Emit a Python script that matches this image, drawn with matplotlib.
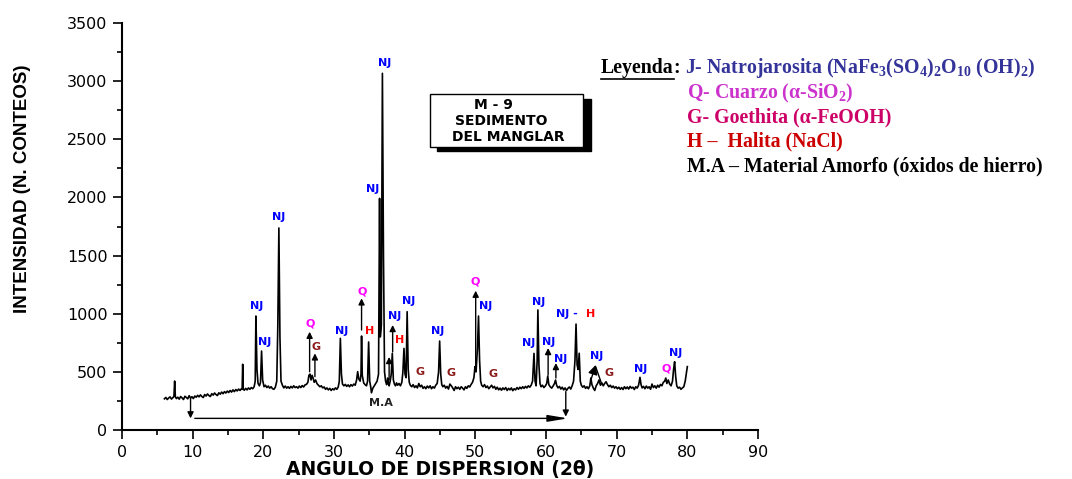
import matplotlib
matplotlib.use("Agg")
import matplotlib.pyplot as plt
from matplotlib.patches import Rectangle
from matplotlib.lines import Line2D

# difractograma M-9, (2theta, conteos)
xrd_pattern = [
    (6.0, 268), (6.2, 280), (6.4, 262), (6.6, 275), (6.8, 285), (7.0, 266), (7.2, 278),
    (7.35, 290), (7.45, 421), (7.55, 285), (7.7, 270), (7.9, 282), (8.1, 265), (8.3, 288),
    (8.5, 276), (8.7, 262), (8.9, 290), (9.1, 280), (9.3, 268), (9.5, 295), (9.7, 275),
    (9.9, 286), (10.1, 270), (10.3, 292), (10.5, 282), (10.7, 298), (10.9, 285), (11.1, 302),
    (11.3, 288), (11.5, 279), (11.7, 305), (11.9, 292), (12.1, 310), (12.3, 296), (12.5, 288),
    (12.7, 312), (12.9, 300), (13.1, 318), (13.3, 305), (13.5, 296), (13.7, 320), (13.9, 308),
    (14.1, 326), (14.3, 312), (14.5, 330), (14.7, 318), (14.9, 335), (15.1, 322), (15.3, 340),
    (15.5, 326), (15.7, 345), (15.9, 330), (16.1, 348), (16.3, 336), (16.5, 352), (16.7, 340),
    (16.9, 355), (17.0, 350), (17.08, 565), (17.15, 352), (17.3, 342), (17.5, 358), (17.7, 345),
    (17.9, 362), (18.1, 350), (18.3, 365), (18.5, 355), (18.7, 372), (18.85, 420), (18.95, 980),
    (19.1, 520), (19.25, 400), (19.45, 380), (19.6, 410), (19.75, 679), (19.9, 430), (20.1, 372),
    (20.3, 385), (20.5, 365), (20.7, 378), (20.9, 360), (21.1, 372), (21.3, 355), (21.5, 350),
    (21.7, 368), (21.9, 420), (22.05, 900), (22.2, 1737), (22.35, 800), (22.5, 420), (22.7, 385),
    (22.9, 362), (23.1, 378), (23.3, 360), (23.5, 372), (23.7, 358), (23.9, 375), (24.1, 362),
    (24.3, 380), (24.5, 365), (24.7, 372), (24.9, 360), (25.1, 378), (25.3, 365), (25.5, 382),
    (25.7, 370), (25.9, 388), (26.1, 392), (26.3, 410), (26.45, 470), (26.6, 481), (26.75, 430),
    (26.9, 470), (27.05, 445), (27.2, 410), (27.4, 430), (27.6, 398), (27.8, 385), (28.0, 372),
    (28.2, 380), (28.4, 362), (28.6, 370), (28.8, 350), (29.0, 362), (29.2, 345), (29.4, 358),
    (29.6, 340), (29.8, 355), (30.0, 345), (30.2, 362), (30.4, 350), (30.6, 370), (30.75, 420),
    (30.9, 788), (31.05, 480), (31.2, 395), (31.4, 380), (31.6, 392), (31.8, 375), (32.0, 388),
    (32.2, 372), (32.4, 390), (32.6, 378), (32.8, 395), (33.0, 385), (33.2, 430), (33.35, 502),
    (33.5, 440), (33.7, 420), (33.82, 480), (33.9, 808), (34.0, 470), (34.2, 405), (34.4, 390),
    (34.6, 380), (34.75, 420), (34.9, 757), (35.05, 420), (35.2, 370), (35.3, 320), (35.5, 360),
    (35.7, 380), (35.9, 400), (36.1, 420), (36.3, 480), (36.45, 1992), (36.55, 800), (36.7, 900),
    (36.85, 3067), (37.0, 1500), (37.15, 500), (37.3, 420), (37.45, 390), (37.6, 447), (37.7, 400),
    (37.8, 380), (37.95, 420), (38.1, 480), (38.25, 659), (38.4, 430), (38.55, 395), (38.7, 380),
    (38.85, 405), (39.0, 385), (39.2, 400), (39.4, 380), (39.6, 410), (39.75, 500), (39.9, 702),
    (40.05, 480), (40.2, 450), (40.35, 1017), (40.5, 520), (40.65, 410), (40.8, 385), (41.0, 372),
    (41.2, 390), (41.4, 365), (41.6, 380), (41.8, 362), (42.0, 400), (42.2, 372), (42.4, 385),
    (42.6, 358), (42.8, 372), (43.0, 355), (43.2, 378), (43.4, 362), (43.6, 380), (43.8, 355),
    (44.0, 372), (44.2, 360), (44.4, 385), (44.6, 400), (44.8, 500), (44.95, 765), (45.1, 480),
    (45.25, 390), (45.4, 372), (45.6, 385), (45.8, 360), (46.0, 375), (46.2, 352), (46.4, 395),
    (46.6, 380), (46.8, 362), (47.0, 340), (47.2, 372), (47.4, 355), (47.6, 368), (47.8, 350),
    (48.0, 372), (48.2, 360), (48.4, 345), (48.6, 372), (48.8, 358), (49.0, 380), (49.2, 370),
    (49.4, 392), (49.6, 410), (49.8, 450), (49.95, 545), (50.1, 500), (50.3, 700), (50.45, 980),
    (50.6, 600), (50.75, 420), (50.9, 385), (51.1, 372), (51.3, 390), (51.5, 365), (51.7, 378),
    (51.9, 355), (52.1, 370), (52.3, 385), (52.5, 362), (52.7, 375), (52.9, 350), (53.1, 368),
    (53.3, 345), (53.5, 360), (53.7, 342), (53.9, 362), (54.1, 348), (54.3, 365), (54.5, 340),
    (54.7, 358), (54.9, 345), (55.1, 362), (55.3, 338), (55.5, 355), (55.7, 345), (55.9, 365),
    (56.1, 350), (56.3, 368), (56.5, 355), (56.7, 372), (56.9, 358), (57.1, 375), (57.3, 362),
    (57.5, 380), (57.7, 368), (57.9, 385), (58.1, 420), (58.3, 659), (58.45, 420), (58.6, 380),
    (58.75, 600), (58.85, 1032), (59.0, 560), (59.15, 400), (59.3, 372), (59.5, 385), (59.7, 365),
    (59.9, 378), (60.1, 400), (60.25, 464), (60.4, 390), (60.6, 372), (60.8, 360), (61.0, 378),
    (61.2, 400), (61.35, 430), (61.5, 385), (61.7, 362), (61.9, 375), (62.1, 352), (62.3, 368),
    (62.5, 345), (62.7, 362), (62.9, 340), (63.1, 358), (63.3, 370), (63.5, 352), (63.7, 380),
    (63.9, 420), (64.1, 600), (64.25, 911), (64.4, 560), (64.55, 520), (64.7, 660), (64.85, 420),
    (65.0, 385), (65.2, 368), (65.4, 380), (65.6, 358), (65.8, 372), (66.0, 355), (66.2, 380),
    (66.35, 447), (66.5, 390), (66.7, 360), (66.9, 340), (67.1, 380), (67.3, 400), (67.5, 430),
    (67.7, 385), (67.9, 405), (68.1, 380), (68.3, 400), (68.5, 415), (68.7, 390), (68.9, 372),
    (69.1, 385), (69.3, 365), (69.5, 378), (69.7, 360), (69.9, 372), (70.1, 355), (70.3, 368),
    (70.5, 350), (70.7, 365), (70.9, 348), (71.1, 372), (71.3, 355), (71.5, 370), (71.7, 352),
    (71.9, 375), (72.1, 360), (72.3, 368), (72.5, 348), (72.7, 372), (72.9, 360), (73.1, 385),
    (73.3, 453), (73.45, 390), (73.6, 362), (73.8, 375), (74.0, 355), (74.2, 378), (74.4, 360),
    (74.6, 372), (74.8, 350), (75.0, 395), (75.2, 365), (75.4, 380), (75.6, 360), (75.8, 385),
    (76.0, 368), (76.2, 392), (76.4, 380), (76.6, 410), (76.8, 420), (76.95, 447), (77.1, 400),
    (77.3, 430), (77.5, 395), (77.7, 380), (77.9, 420), (78.05, 520), (78.2, 587), (78.35, 460),
    (78.5, 380), (78.7, 360), (78.9, 368), (79.1, 350), (79.3, 362), (79.5, 372), (79.7, 420),
    (79.85, 480), (80.0, 545),
]

# etiquetas de fases sobre los picos
phase_labels = ["NJ", "NJ", "NJ", "Q", "G", "NJ", "Q", "H", "NJ", "NJ", "NJ", "H", "NJ",
                "G", "NJ", "G", "Q", "NJ", "G", "NJ", "NJ", "NJ", "NJ", "NJ", "G", "NJ", "Q", "NJ"]
phase_x = [19.1, 20.2, 22.1, 26.6, 27.4, 31.1, 34.0, 35.0, 35.5, 37.2, 38.6, 39.3, 40.5,
           42.2, 44.6, 46.6, 50.0, 51.4, 52.5, 57.5, 58.9, 60.4, 62.1, 67.2, 68.9, 73.4, 77.0, 78.4]
phase_y = [1066, 757, 1832, 912, 714, 851, 1187, 851, 2072, 3156, 980, 774, 1109,
           499, 851, 490, 1273, 1066, 482, 748, 1101, 757, 611, 636, 490, 525, 525, 662]

phase_colors = {"NJ": "#0000ff", "Q": "#ff00ff", "G": "#8b1a1a", "H": "#ff0000"}

# flechas (cola -> punta)
arrow_tails = [(26.55, 501), (27.3, 459), (33.9, 860), (37.8, 430), (38.3, 671),
               (50.05, 516), (60.3, 473), (61.4, 447)]
arrow_heads = [(26.55, 845), (27.3, 659), (33.9, 1132), (37.8, 628), (38.3, 903),
               (50.05, 1198), (60.3, 705), (61.4, 576)]

legend_lines = [
    ("J- Natrojarosita (NaFe$_3$(SO$_4$)$_2$O$_{10}$ (OH)$_2$)", "#333399"),
    ("Q- Cuarzo (\u03b1-SiO$_2$)", "#cc33cc"),
    ("G- Goethita (\u03b1-FeOOH)", "#cc0066"),
    ("H \u2013  Halita (NaCl)", "#cc0000"),
    ("M.A \u2013 Material Amorfo (\u00f3xidos de hierro)", "#000000"),
]

plt.rcParams["mathtext.fontset"] = "custom"
plt.rcParams["mathtext.rm"] = "Liberation Serif:bold"
plt.rcParams["mathtext.it"] = "Liberation Serif:bold"
plt.rcParams["mathtext.bf"] = "Liberation Serif:bold"

W, H = 1072, 479
fig = plt.figure(figsize=(W / 100, H / 100), dpi=100)
ax = fig.add_axes([122 / W, 1 - 430 / H, 636 / W, 407 / H])

xs = [p[0] for p in xrd_pattern]
ys = [p[1] for p in xrd_pattern]
ax.plot(xs, ys, color="black", lw=1.2)

ax.set_xlim(0, 90)
ax.set_ylim(0, 3500)
ax.set_xticks(range(0, 91, 10))
ax.set_xticks(range(5, 90, 10), minor=True)
ax.set_yticks(range(0, 3501, 500))
ax.set_yticks(range(250, 3500, 500), minor=True)
for s in ["top", "right"]:
    ax.spines[s].set_visible(False)
for s in ["left", "bottom"]:
    ax.spines[s].set_linewidth(1.5)
ax.tick_params(which="major", direction="out", length=6.5, width=1.2, labelsize=11.5, pad=4)
ax.tick_params(which="minor", direction="out", length=3.5, width=1.2)
for lab in ax.get_xticklabels() + ax.get_yticklabels():
    lab.set_family("DejaVu Sans")

fig.text(23 / W, 1 - 189 / H, "INTENSIDAD (N. CONTEOS)", rotation=90, ha="center", va="center",
         family="Liberation Sans", weight="bold", fontsize=13.5)
fig.text(440 / W, 1 - 469 / H, "ANGULO DE DISPERSION (2\u03b8)", ha="center", va="center",
         family="DejaVu Sans", weight="bold", fontsize=13.5)

lab_kw = dict(ha="center", va="center", family="DejaVu Sans", weight="bold", fontsize=8)
for lab, x, y in zip(phase_labels, phase_x, phase_y):
    ax.text(x, y, lab, color=phase_colors[lab], **lab_kw)
ax.text(63.0, 998, "NJ -", color="#0000ff", **lab_kw)
ax.text(66.3, 998, "H", color="#ff0000", **lab_kw)

arrow_kw = dict(arrowstyle="-|>", color="black", lw=1.0, mutation_scale=9, shrinkA=0, shrinkB=0)
for tail, head in zip(arrow_tails, arrow_heads):
    ax.annotate("", xy=head, xytext=tail, arrowprops=arrow_kw)

# flecha doble en ~67
big_kw = dict(arrowstyle="-|>", color="black", lw=1.0, mutation_scale=14, shrinkA=0, shrinkB=0)
ax.annotate("", xy=(67.05, 560), xytext=(66.4, 440), arrowprops=big_kw)
ax.plot([67.8, 67.05], [410, 540], color="black", lw=1.0)

# material amorfo
ax.annotate("", xy=(9.7, 100), xytext=(9.7, 275), arrowprops=arrow_kw)
ax.annotate("", xy=(62.8, 115), xytext=(62.8, 330), arrowprops=arrow_kw)
ax.annotate("", xy=(63.1, 100), xytext=(10.3, 100),
            arrowprops=dict(arrowstyle="-|>,head_width=0.2,head_length=1.2", color="black",
                            lw=1.0, mutation_scale=10, shrinkA=0, shrinkB=0))
ax.text(36.6, 232, "M.A", ha="center", va="center", family="DejaVu Sans",
        weight="bold", fontsize=8, color="#222222")

# recuadro de la muestra
ax.add_patch(Rectangle((44.6, 2399), 21.8, 447, facecolor="black", edgecolor="black",
                       clip_on=False, zorder=3))
ax.add_patch(Rectangle((43.6, 2433), 21.6, 456, facecolor="white", edgecolor="black",
                       lw=1.0, clip_on=False, zorder=4))
box_kw = dict(ha="center", va="center", family="DejaVu Sans", weight="bold", fontsize=10, zorder=5)
ax.text(52.5, 2795, "M - 9", **box_kw)
ax.text(53.6, 2657, "SEDIMENTO", **box_kw)
ax.text(54.6, 2520, "DEL MANGLAR", **box_kw)

# leyenda
leg_kw = dict(family="Liberation Serif", weight="bold", fontsize=14.3, va="baseline")
t0 = fig.text(601 / W, 1 - 72.7 / H, "Leyenda", color="black", **leg_kw)
fig.canvas.draw()
bb = t0.get_window_extent()
fig.text(bb.x1 / W, 1 - 72.7 / H, ":", color="black", **leg_kw)
fig.add_artist(Line2D([bb.x0 / W, bb.x1 / W], [(bb.y0 - 1) / H, (bb.y0 - 1) / H],
                      color="black", lw=1.2, transform=fig.transFigure))

baselines = [72.7, 98.3, 122.0, 146.0, 171.0]
starts = [bb.x1 + 11, 687, 687, 687, 687]
for (txt, col), yb, xs0 in zip(legend_lines, baselines, starts):
    fig.text(xs0 / W, 1 - yb / H, txt, color=col, **leg_kw)

fig.savefig("out.png", dpi=100)
